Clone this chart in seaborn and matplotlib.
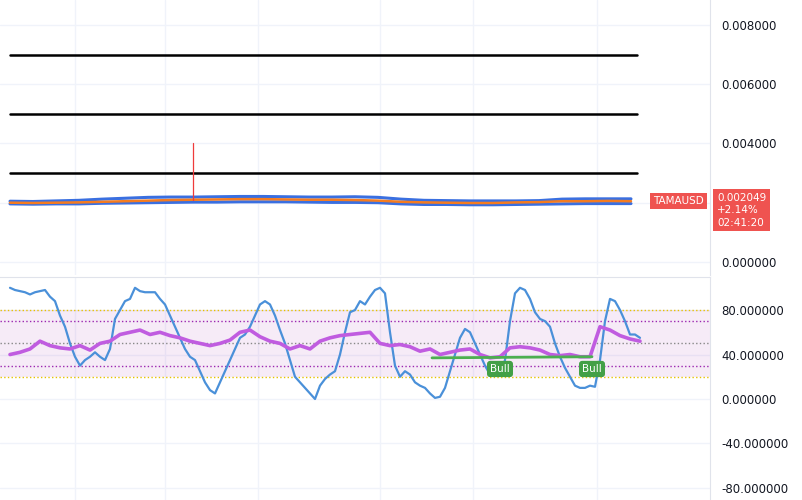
import numpy as np
import matplotlib
matplotlib.use("Agg")
import matplotlib.pyplot as plt
import seaborn as sns
import pandas as pd

sns.set_style("white")
plt.rcParams['font.family'] = ['DejaVu Sans']

# Stoch RSI %K (one value per step)
stoch_k = [100,98,97,96,94,96,97,98,92,88,75,65,50,38,30,35,38,42,38,35,45,72,80,88,90,100,97,96,96,96,90,85,75,65,55,45,38,35,25,15,
           8,5,15,25,35,45,55,58,65,75,85,88,85,75,62,50,35,20,15,10,5,0,12,18,22,25,40,60,78,80,88,85,92,98,100,95,60,30,20,25,
           22,15,12,10,5,1,2,10,25,40,55,63,60,50,40,30,22,23,22,35,70,95,100,98,90,78,72,70,65,50,38,28,20,12,10,10,12,11,35,70,
           90,88,80,70,58,58,55]
# RSI (one value every two steps)
rsi = [40,42,45,52,48,46,45,48,44,50,52,58,60,62,58,60,57,55,52,50,48,50,53,60,62,56,52,50,45,48,45,52,55,57,58,59,60,50,48,49,
       47,43,45,40,42,44,45,40,37,38,46,47,46,44,40,39,40,38,38,65,62,57,54,52]
# price panel (one value every ten steps)
price = [0.00200,0.00199,0.00200,0.00201,0.00203,0.00205,0.00207,0.00209,0.00210,0.00211,0.00212,0.00212,0.00211,0.00210,0.00210,0.00209,0.00207,0.00203,0.00201,0.00200,0.00199,0.00199,0.00201,0.00202,0.00205,0.00205,0.00206,0.00205]
upper = [0.00205,0.00204,0.00206,0.00208,0.00212,0.00215,0.00218,0.00219,0.00219,0.00220,0.00221,0.00221,0.00220,0.00219,0.00219,0.00220,0.00218,0.00212,0.00208,0.00207,0.00206,0.00206,0.00206,0.00207,0.00212,0.00213,0.00213,0.00213]
lower = [0.00196,0.00195,0.00196,0.00196,0.00198,0.00199,0.00200,0.00201,0.00202,0.00202,0.00203,0.00203,0.00203,0.00202,0.00201,0.00201,0.00200,0.00196,0.00194,0.00194,0.00193,0.00193,0.00194,0.00195,0.00196,0.00197,0.00197,0.00197]
levels = [0.007, 0.005, 0.003]
spike_x, spike_lo, spike_hi = 36.6, 0.0021, 0.0040

fig = plt.figure(figsize=(8.02, 5.0), dpi=100)
ax1 = fig.add_axes([0, 1-275/500, 710/802, 275/500])
ax2 = fig.add_axes([0, 0, 710/802, 223/500])
xlim = (-2, 140)

# top panel
xp = np.arange(len(price))*4.6
for lv in levels:
    ax1.plot([0, 125.4], [lv, lv], color='black', lw=1.8)
sns.lineplot(x=xp, y=upper, ax=ax1, color='#3a6fe0', lw=2.2)
sns.lineplot(x=xp, y=lower, ax=ax1, color='#3a6fe0', lw=2.2)
sns.lineplot(x=xp, y=price, ax=ax1, color='#f57c20', lw=1.8)
ax1.plot([spike_x, spike_x], [spike_lo, spike_hi], color='#ef3b3b', lw=0.9)
ax1.set_ylim(-0.00044, 0.00884)
ax1.set_xlim(*xlim)
ax1.set_yticks([0, 0.002, 0.004, 0.006, 0.008])
ax1.set_yticklabels(['0.000000', '', '0.004000', '0.006000', '0.008000'])
ax1.text(0.92, 0.27, 'TAMAUSD', transform=ax1.transAxes, color='white', fontsize=7.5, va='center',
         bbox=dict(boxstyle='square,pad=0.3', fc='#ef5350', ec='none'))
ax1.text(1.01, 0.235, '0.002049\n+2.14%\n02:41:20', transform=ax1.transAxes, color='white', fontsize=7.5, va='center',
         linespacing=1.3, bbox=dict(boxstyle='square,pad=0.35', fc='#ef5350', ec='none'))

# bottom panel
xk = np.arange(len(stoch_k))
xr = np.arange(len(rsi))*2
ax2.axhspan(20, 80, color='#9c27b0', alpha=0.09, lw=0)
for lv, c in [(80, '#e6c200'), (20, '#e6c200'), (70, '#9c27b0'), (30, '#9c27b0'), (50, '#888888')]:
    ax2.axhline(lv, color=c, ls=':', lw=1)
sns.lineplot(x=xk, y=stoch_k, ax=ax2, color='#4a90d9', lw=1.6)
sns.lineplot(x=xr, y=rsi, ax=ax2, color='#c05ce0', lw=2.6)
ax2.plot([84.4, 116.4], [37, 38], color='#4caf50', lw=2)
for bx in [98, 116.4]:
    ax2.text(bx, 27, 'Bull', color='white', fontsize=7.5, ha='center', va='center',
             bbox=dict(boxstyle='round,pad=0.3', fc='#43a047', ec='none'))
ax2.set_ylim(-90.8, 109.7)
ax2.set_xlim(*xlim)
ax2.set_yticks([-80, -40, 0, 40, 80])
ax2.set_yticklabels(['-80.000000', '-40.000000', '0.000000', '40.000000', '80.000000'])

for ax in (ax1, ax2):
    ax.yaxis.tick_right()
    ax.tick_params(axis='y', length=0, labelsize=8.5, pad=8, colors='#131722')
    ax.set_xticks([13, 31, 49.6, 74, 92.6, 117.4])
    ax.tick_params(axis='x', length=0, labelbottom=False)
    ax.grid(True, color='#f0f3fa', lw=1)
    for s in ax.spines.values():
        s.set_visible(False)
    ax.spines['right'].set_visible(True)
    ax.spines['right'].set_color('#e0e3eb')
ax2.spines['top'].set_visible(True)
ax2.spines['top'].set_color('#e0e3eb')

fig.savefig('out.png', dpi=100)
